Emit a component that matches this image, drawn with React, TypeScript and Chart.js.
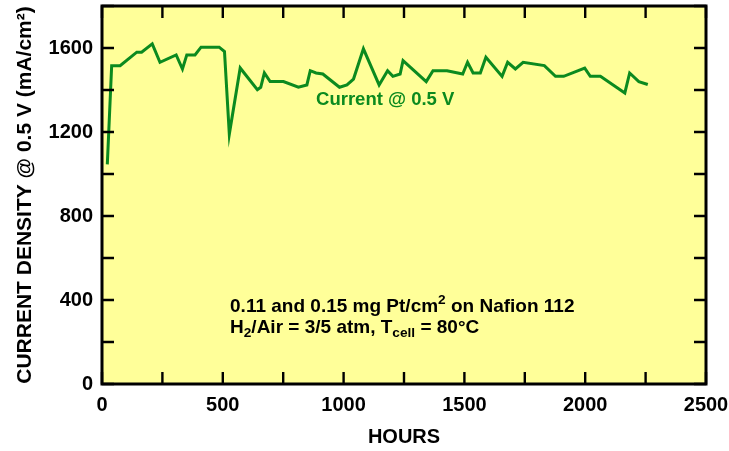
import React, { useEffect, useRef } from 'react';
import { Chart, registerables } from 'chart.js';

Chart.register(...registerables);

// ---- data ----
const hours = [
  22, 40, 75, 144, 164, 208, 240, 307, 333, 351, 385, 410, 485, 507, 527, 572, 643, 657, 672, 696,
  751, 813, 848, 862, 886, 914, 983, 1014, 1041, 1082, 1147, 1182, 1204, 1234, 1246, 1342, 1370,
  1428, 1493, 1513, 1536, 1566, 1589, 1656, 1679, 1711, 1743, 1831, 1877, 1911, 1998, 2021, 2063,
  2164, 2184, 2222, 2259,
];
const density = [
  1046, 1516, 1516, 1580, 1580, 1620, 1532, 1567, 1500, 1567, 1567, 1604, 1604, 1583, 1190, 1505,
  1401, 1413, 1481, 1440, 1440, 1413, 1424, 1492, 1481, 1476, 1413, 1424, 1452, 1596, 1424, 1492,
  1465, 1476, 1540, 1440, 1492, 1492, 1476, 1532, 1481, 1481, 1556, 1465, 1532, 1500, 1532, 1516,
  1465, 1465, 1504, 1465, 1465, 1386, 1481, 1440, 1426,
];
const xLabelled = [0, 500, 1000, 1500, 2000, 2500];
const yLabelled = [0, 400, 800, 1200, 1600];
const xTitle = 'HOURS';
const yTitle = 'CURRENT DENSITY @ 0.5 V (mA/cm\u00B2)';
const seriesLabel = 'Current @ 0.5 V';
const noteLine1: [string, string][] = [
  ['0.11 and 0.15 mg Pt/cm', 'n'],
  ['2', 'sup'],
  [' on Nafion 112', 'n'],
];
const noteLine2: [string, string][] = [
  ['H', 'n'],
  ['2', 'sub'],
  ['/Air = 3/5 atm, T', 'n'],
  ['cell', 'sub'],
  [' = 80\u00B0C', 'n'],
];

const GREEN = '#0b8a1f';
const YELLOW = '#ffff99';
const FONT = '"Liberation Sans", Arial, Helvetica, sans-serif';

function drawRich(ctx: CanvasRenderingContext2D, segs: [string, string][], x: number, y: number, size: number) {
  let cx = x;
  ctx.textAlign = 'left';
  ctx.textBaseline = 'alphabetic';
  for (const [t, kind] of segs) {
    let fs = size;
    let dy = 0;
    if (kind === 'sup') { fs = size * 0.72; dy = -size * 0.38; }
    if (kind === 'sub') { fs = size * 0.72; dy = size * 0.22; }
    ctx.font = `bold ${fs}px ${FONT}`;
    ctx.fillText(t, cx, y + dy);
    cx += ctx.measureText(t).width;
  }
}

const framePlugin = {
  id: 'frameAndNotes',
  beforeDraw(chart: any) {
    const { ctx, chartArea } = chart;
    ctx.save();
    ctx.fillStyle = YELLOW;
    ctx.fillRect(chartArea.left, chartArea.top, chartArea.right - chartArea.left, chartArea.bottom - chartArea.top);
    ctx.restore();
  },
  afterDatasetsDraw(chart: any) {
    const { ctx, chartArea, scales } = chart;
    const { left, right, top, bottom } = chartArea;
    const xs = scales.x;
    const ys = scales.y;
    const len = 12;
    ctx.save();
    ctx.strokeStyle = '#000';
    ctx.lineWidth = 2.4;
    ctx.beginPath();
    xs.ticks.forEach((t: any) => {
      const px = xs.getPixelForValue(t.value);
      ctx.moveTo(px, bottom); ctx.lineTo(px, bottom - len);
      ctx.moveTo(px, top); ctx.lineTo(px, top + len);
    });
    ys.ticks.forEach((t: any) => {
      const py = ys.getPixelForValue(t.value);
      ctx.moveTo(left, py); ctx.lineTo(left + len, py);
      ctx.moveTo(right, py); ctx.lineTo(right - len, py);
    });
    ctx.stroke();
    ctx.lineWidth = 3;
    ctx.strokeRect(left, top, right - left, bottom - top);

    // series label
    ctx.fillStyle = GREEN;
    ctx.font = `bold 18.5px ${FONT}`;
    ctx.textAlign = 'left';
    ctx.textBaseline = 'alphabetic';
    ctx.fillText(seriesLabel, xs.getPixelForValue(886), ys.getPixelForValue(1330));

    // notes
    ctx.fillStyle = '#000';
    drawRich(ctx, noteLine1, xs.getPixelForValue(530), ys.getPixelForValue(345), 19);
    drawRich(ctx, noteLine2, xs.getPixelForValue(530), ys.getPixelForValue(245), 19);
    ctx.restore();
  },
};

export default function App() {
  const ref = useRef<HTMLCanvasElement | null>(null);
  useEffect(() => {
    document.body.style.margin = '0';
    const canvas = ref.current;
    if (!canvas) return;
    const chart = new Chart(canvas, {
      type: 'line',
      data: {
        datasets: [
          {
            label: seriesLabel,
            data: hours.map((h, i) => ({ x: h, y: density[i] })),
            borderColor: GREEN,
            borderWidth: 3,
            pointRadius: 0,
            tension: 0,
            fill: false,
          },
        ],
      },
      options: {
        animation: false,
        responsive: true,
        maintainAspectRatio: false,
        layout: { padding: { left: 0, right: 23, top: 6, bottom: 0 } },
        plugins: { legend: { display: false }, tooltip: { enabled: false } },
        scales: {
          x: {
            type: 'linear',
            min: 0,
            max: 2500,
            grid: { display: false, drawTicks: false },
            border: { display: false },
            afterFit: (s: any) => {
              s.height = 67;
              s.paddingLeft = 0;
              s.paddingRight = 0;
              s.paddingTop = 0;
              s.paddingBottom = 0;
            },
            ticks: {
              stepSize: 250,
              autoSkip: false,
              maxRotation: 0,
              padding: 9,
              color: '#000',
              font: { family: FONT, size: 20, weight: 'bold' },
              callback: (v: any) => (xLabelled.includes(Number(v)) ? String(v) : ''),
            },
            title: {
              display: true,
              text: xTitle,
              color: '#000',
              font: { family: FONT, size: 20, weight: 'bold' },
              padding: { top: 0, bottom: 2 },
            },
          },
          y: {
            type: 'linear',
            min: 0,
            max: 1800,
            grid: { display: false, drawTicks: false },
            border: { display: false },
            afterFit: (s: any) => {
              s.width = 102;
              s.paddingLeft = 0;
              s.paddingRight = 0;
              s.paddingTop = 0;
              s.paddingBottom = 0;
            },
            ticks: {
              stepSize: 200,
              autoSkip: false,
              padding: 9,
              color: '#000',
              font: { family: FONT, size: 20, weight: 'bold' },
              callback: (v: any) => (yLabelled.includes(Number(v)) ? String(v) : ''),
            },
            title: {
              display: true,
              text: yTitle,
              color: '#000',
              font: { family: FONT, size: 21, weight: 'bold' },
              padding: { top: 13, bottom: 0 },
            },
          },
        },
      },
      plugins: [framePlugin],
    });
    return () => chart.destroy();
  }, []);
  return (
    <div style={{ position: 'absolute', left: 0, top: 0, width: 729, height: 451 }}>
      <canvas ref={ref} />
    </div>
  );
}
